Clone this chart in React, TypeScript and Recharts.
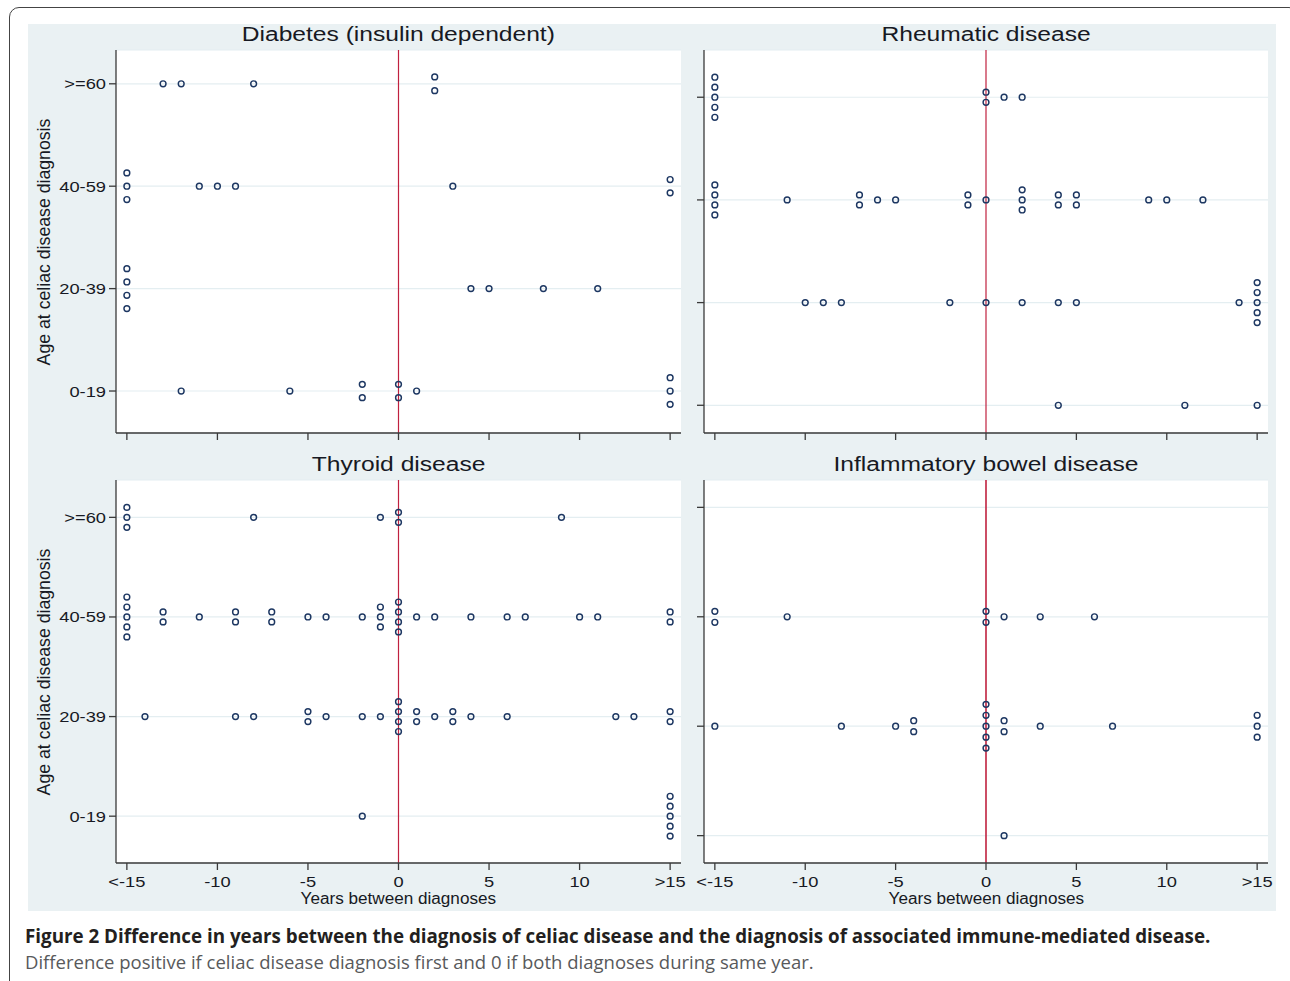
import React from 'react';
import { ScatterChart, Scatter, XAxis, YAxis, CartesianGrid, ReferenceLine } from 'recharts';

// ---------- data ----------
const xTickValues = [-15, -10, -5, 0, 5, 10, 15];
const xTickLabels = ['<-15', '-10', '-5', '0', '5', '10', '>15'];
const ageLevels = [0, 1, 2, 3];
const ageLabels = ['0-19', '20-39', '40-59', '>=60'];
const panelTitles = ['Diabetes (insulin dependent)', 'Rheumatic disease', 'Thyroid disease', 'Inflammatory bowel disease'];
const xAxisTitle = 'Years between diagnoses';
const yAxisTitle = 'Age at celiac disease diagnosis';
const captionBold = 'Figure 2 Difference in years between the diagnosis of celiac disease and the diagnosis of associated immune-mediated disease.';
const captionText = 'Difference positive if celiac disease diagnosis first and 0 if both diagnoses during same year.';

// [years between diagnoses, age group level (jittered)]
const diabetesPoints: [number, number][] = [
  [-13, 3], [-12, 3], [-8, 3], [2, 3.067], [2, 2.933],
  [-15, 2.13], [-15, 2], [-15, 1.87], [-11, 2], [-10, 2], [-9, 2], [3, 2], [15, 2.065], [15, 1.935],
  [-15, 1.195], [-15, 1.065], [-15, 0.935], [-15, 0.805], [4, 1], [5, 1], [8, 1], [11, 1],
  [-12, 0], [-6, 0], [-2, 0.065], [-2, -0.065], [0, 0.065], [0, -0.065], [1, 0], [15, 0.13], [15, 0], [15, -0.13],
];

const rheumaticPoints: [number, number][] = [
  [-15, 3.195], [-15, 3.098], [-15, 3], [-15, 2.902], [-15, 2.805], [0, 3.049], [0, 2.951], [1, 3], [2, 3],
  [-15, 2.146], [-15, 2.049], [-15, 1.951], [-15, 1.854], [-11, 2], [-7, 2.049], [-7, 1.951], [-6, 2], [-5, 2],
  [-1, 2.049], [-1, 1.951], [0, 2], [2, 2.098], [2, 2], [2, 1.902], [4, 2.049], [4, 1.951], [5, 2.049], [5, 1.951],
  [9, 2], [10, 2], [12, 2],
  [-10, 1], [-9, 1], [-8, 1], [-2, 1], [0, 1], [2, 1], [4, 1], [5, 1], [14, 1],
  [15, 1.195], [15, 1.098], [15, 1], [15, 0.902], [15, 0.805],
  [4, 0], [11, 0], [15, 0],
];

const thyroidPoints: [number, number][] = [
  [-15, 3.1], [-15, 3], [-15, 2.9], [-8, 3], [-1, 3], [0, 3.05], [0, 2.95], [9, 3],
  [-15, 2.2], [-15, 2.1], [-15, 2], [-15, 1.9], [-15, 1.8], [-13, 2.05], [-13, 1.95], [-11, 2],
  [-9, 2.05], [-9, 1.95], [-7, 2.05], [-7, 1.95], [-5, 2], [-4, 2], [-2, 2], [-1, 2.1], [-1, 2], [-1, 1.9],
  [0, 2.15], [0, 2.05], [0, 1.95], [0, 1.85], [1, 2], [2, 2], [4, 2], [6, 2], [7, 2], [10, 2], [11, 2],
  [15, 2.05], [15, 1.95],
  [-14, 1], [-9, 1], [-8, 1], [-5, 1.05], [-5, 0.95], [-4, 1], [-2, 1], [-1, 1],
  [0, 1.15], [0, 1.05], [0, 0.95], [0, 0.85], [1, 1.05], [1, 0.95], [2, 1], [3, 1.05], [3, 0.95], [4, 1],
  [6, 1], [12, 1], [13, 1], [15, 1.05], [15, 0.95],
  [-2, 0], [15, 0.2], [15, 0.1], [15, 0], [15, -0.1], [15, -0.2],
];

const ibdPoints: [number, number][] = [
  [-15, 2.05], [-15, 1.95], [-11, 2], [0, 2.05], [0, 1.95], [1, 2], [3, 2], [6, 2],
  [-15, 1], [-8, 1], [-5, 1], [-4, 1.05], [-4, 0.95], [0, 1.2], [0, 1.1], [0, 1], [0, 0.9], [0, 0.8],
  [1, 1.05], [1, 0.95], [3, 1], [7, 1], [15, 1.1], [15, 1], [15, 0.9],
  [1, 0],
];

const xRange: [number, number] = [-15.6, 15.6];
const diabetesYRange: [number, number] = [-0.41, 3.33];
const rheumaticYRange: [number, number] = [-0.27, 3.46];
const thyroidYRange: [number, number] = [-0.47, 3.375];
const ibdYRange: [number, number] = [-0.25, 3.25];

// ---------- style ----------
const FONT = "'Liberation Sans', Arial, sans-serif";
const CAPTION_FONT = "'Open Sans', 'Noto Sans', sans-serif";
const TEXT = '#171923';
const AXIS = '#3a3a3a';
const BG = '#eaf1f3';
const GRID = '#e4eef1';
const MARK = '#1d3762';
const REDLINE = '#c0213f';

const PLOT_W = 565;
const PLOT_H = 383;
const Y_AXIS_W = 90;
const X_AXIS_H = 40;
const M_TOP = 10;
const M_RIGHT = 12;

const toRows = (pts: [number, number][]) => pts.map(([x, y]) => ({ x, y }));

const renderMarker = (props: any) => {
  const { cx, cy } = props;
  if (cx == null || cy == null) return <g />;
  return <circle cx={cx} cy={cy} r={2.9} fill="none" stroke={MARK} strokeWidth={1.45} />;
};

const makeXTick = (show: boolean) => (props: any) => {
  const { x, y, payload } = props;
  if (!show) return <g />;
  const i = xTickValues.indexOf(payload.value);
  return (
    <g transform={`translate(${x},${y})`}>
      <text transform="scale(1.18,1)" textAnchor="middle" dy="0.71em" fontSize={15.5} fill={TEXT} fontFamily={FONT}>
        {xTickLabels[i]}
      </text>
    </g>
  );
};

const makeYTick = (show: boolean) => (props: any) => {
  const { x, y, payload } = props;
  if (!show) return <g />;
  const i = ageLevels.indexOf(payload.value);
  return (
    <g transform={`translate(${x},${y})`}>
      <text transform="scale(1.18,1)" textAnchor="end" dy="0.355em" fontSize={15.5} fill={TEXT} fontFamily={FONT}>
        {ageLabels[i]}
      </text>
    </g>
  );
};

type PanelProps = {
  plotLeft: number;
  plotTop: number;
  plotW: number;
  title: string;
  points: [number, number][];
  yRange: [number, number];
  showXLabels: boolean;
  showYLabels: boolean;
  redWidth: number;
};

function Panel({ plotLeft, plotTop, plotW, title, points, yRange, showXLabels, showYLabels, redWidth }: PanelProps) {
  const W = Y_AXIS_W + plotW + M_RIGHT;
  const H = M_TOP + PLOT_H + X_AXIS_H;
  const cx = plotLeft + plotW / 2;
  return (
    <>
      <div
        style={{
          position: 'absolute', left: cx - 300, top: plotTop - 28.5, width: 600, textAlign: 'center',
          fontFamily: FONT, fontSize: 20, lineHeight: '24px', color: TEXT, whiteSpace: 'nowrap',
        }}
      >
        <span style={{ display: 'inline-block', transform: 'scaleX(1.23)' }}>{title}</span>
      </div>
      <div style={{ position: 'absolute', left: plotLeft - Y_AXIS_W, top: plotTop - M_TOP }}>
        <ScatterChart width={W} height={H} margin={{ top: M_TOP, right: M_RIGHT, bottom: 0, left: 0 }}>
          <CartesianGrid horizontal vertical={false} stroke={GRID} strokeWidth={1.2} fill="#ffffff" />
          <XAxis
            type="number" dataKey="x" domain={xRange} ticks={xTickValues} allowDataOverflow interval={0}
            height={X_AXIS_H} tickSize={7} tickMargin={6}
            axisLine={{ stroke: AXIS, strokeWidth: 1.3 }} tickLine={{ stroke: AXIS, strokeWidth: 1.3 }}
            tick={makeXTick(showXLabels)}
          />
          <YAxis
            type="number" dataKey="y" domain={yRange} ticks={ageLevels} allowDataOverflow interval={0}
            width={Y_AXIS_W} tickSize={7} tickMargin={3}
            axisLine={{ stroke: AXIS, strokeWidth: 1.3 }} tickLine={{ stroke: AXIS, strokeWidth: 1.3 }}
            tick={makeYTick(showYLabels)}
          />
          <ReferenceLine x={0} stroke={REDLINE} strokeWidth={redWidth} />
          <Scatter data={toRows(points)} shape={renderMarker} isAnimationActive={false} />
        </ScatterChart>
      </div>
      {showXLabels && (
        <div
          style={{
            position: 'absolute', left: cx - 200, top: plotTop + PLOT_H + 26, width: 400, textAlign: 'center',
            fontFamily: FONT, fontSize: 16, lineHeight: '20px', color: TEXT, whiteSpace: 'nowrap',
          }}
        >
          <span style={{ display: 'inline-block', transform: 'scaleX(1.07)' }}>{xAxisTitle}</span>
        </div>
      )}
      {showYLabels && (
        <div
          style={{
            position: 'absolute', left: 43.5 - 200, top: plotTop + PLOT_H / 2 - 10, width: 400, height: 20,
            textAlign: 'center', fontFamily: FONT, fontSize: 17.7, lineHeight: '20px', color: TEXT,
            whiteSpace: 'nowrap', transform: 'rotate(-90deg)', transformOrigin: '50% 50%',
          }}
        >
          {yAxisTitle}
        </div>
      )}
    </>
  );
}

export default function App() {
  return (
    <div style={{ position: 'absolute', left: 0, top: 0, width: 1290, height: 981, overflow: 'hidden', background: '#ffffff' }}>
      <div
        style={{
          position: 'absolute', left: 9, top: 7, width: 1290, height: 1000,
          border: '1.5px solid #444', borderRadius: 10, boxSizing: 'border-box',
        }}
      />
      <div style={{ position: 'absolute', left: 28, top: 24, width: 1248, height: 887, background: BG }} />
      <Panel plotLeft={116} plotTop={50} plotW={PLOT_W} title={panelTitles[0]} points={diabetesPoints}
        yRange={diabetesYRange} showXLabels={false} showYLabels={true} redWidth={1.2} />
      <Panel plotLeft={704} plotTop={50} plotW={564} title={panelTitles[1]} points={rheumaticPoints}
        yRange={rheumaticYRange} showXLabels={false} showYLabels={false} redWidth={1.2} />
      <Panel plotLeft={116} plotTop={480} plotW={PLOT_W} title={panelTitles[2]} points={thyroidPoints}
        yRange={thyroidYRange} showXLabels={true} showYLabels={true} redWidth={1.2} />
      <Panel plotLeft={704} plotTop={480} plotW={564} title={panelTitles[3]} points={ibdPoints}
        yRange={ibdYRange} showXLabels={true} showYLabels={false} redWidth={1.6} />
      <div
        style={{
          position: 'absolute', left: 25, top: 925, fontFamily: CAPTION_FONT,
          fontSize: 18.8, fontWeight: 700, lineHeight: '22px', color: '#231f20', whiteSpace: 'nowrap',
        }}
      >
        {captionBold}
      </div>
      <div
        style={{
          position: 'absolute', left: 25, top: 950.5, fontFamily: CAPTION_FONT,
          fontSize: 18.5, fontWeight: 400, lineHeight: '22px', color: '#58595b', whiteSpace: 'nowrap',
        }}
      >
        {captionText}
      </div>
    </div>
  );
}
